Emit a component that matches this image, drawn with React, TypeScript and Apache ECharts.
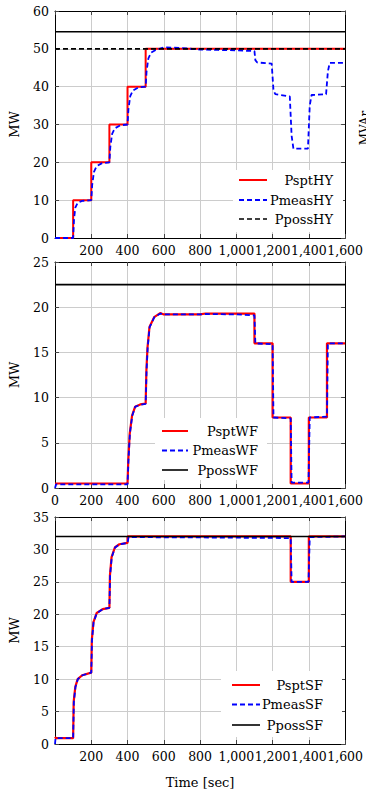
import React, { useEffect, useRef } from "react";
import * as echarts from "echarts";

// ---------- data ----------
const X_MIN = 0;
const X_MAX = 1600;
const X_STEP = 200;

// Panel 1: hydro
const hyPspt: [number, number][] = [
  [0, 0], [100, 0], [100, 10], [200, 10], [200, 20], [300, 20], [300, 30],
  [400, 30], [400, 40], [500, 40], [500, 50], [1600, 50],
];
const hyPmeas: [number, number][] = [
  [0, 0], [100, 0], [105, 5], [112, 8], [125, 9.3], [150, 9.8], [200, 10],
  [205, 14], [215, 17.5], [230, 19], [260, 19.8], [300, 20],
  [305, 24], [315, 27.5], [330, 29], [360, 29.8], [400, 30],
  [405, 34], [415, 37.5], [430, 39], [460, 39.8], [500, 40],
  [505, 44], [515, 47.5], [530, 49], [560, 49.8], [600, 50.4], [700, 50.2],
  [800, 49.8], [900, 49.7], [1000, 49.6], [1100, 49.4], [1105, 47], [1115, 46.4],
  [1195, 46.1], [1205, 39], [1215, 38], [1295, 37.4], [1305, 27], [1315, 23.6],
  [1395, 23.6], [1405, 35], [1415, 37.8], [1495, 38], [1505, 44], [1515, 46.3],
  [1600, 46.3],
];
const hyPposs: [number, number][] = [[0, 50], [1600, 50]];
const hyUpper: [number, number][] = [[0, 54.5], [1600, 54.5]];

// Panel 2: wind farm
const wfPspt: [number, number][] = [
  [0, 0.5], [400, 0.5], [404, 3], [412, 6], [425, 8], [442, 9], [470, 9.25],
  [500, 9.35], [504, 13], [510, 15.5], [521, 17.8], [547, 18.9], [580, 19.35],
  [600, 19.2], [800, 19.2], [830, 19.3], [1100, 19.3], [1100, 16], [1200, 16],
  [1200, 7.8], [1300, 7.8], [1300, 0.5], [1400, 0.5], [1400, 7.8], [1500, 7.8],
  [1500, 16], [1600, 16],
];
const wfPmeas: [number, number][] = [
  [0, 0], [6, 0.4], [400, 0.4], [405, 3], [413, 6], [426, 8], [443, 9],
  [470, 9.2], [500, 9.3], [505, 13], [511, 15.5], [522, 17.8], [548, 18.9],
  [582, 19.3], [600, 19.2], [800, 19.2], [830, 19.25], [1000, 19.2], [1100, 19.1],
  [1105, 16], [1200, 15.9], [1205, 7.8], [1300, 7.7], [1305, 0.6], [1398, 0.6],
  [1405, 7.8], [1500, 7.9], [1505, 16], [1600, 16],
];
const wfPposs: [number, number][] = [[0, 22.5], [1600, 22.5]];

// Panel 3: solar farm
const sfPspt: [number, number][] = [
  [0, 1.1], [5, 0.9], [100, 0.9], [103, 6.5], [112, 8.8], [125, 10], [150, 10.6],
  [200, 11], [203, 16], [212, 18.8], [230, 20.2], [263, 20.8], [300, 21],
  [303, 26], [312, 28.8], [330, 30.3], [355, 30.8], [400, 31], [400, 32],
  [1300, 32], [1300, 25], [1400, 25], [1400, 32], [1600, 32],
];
const sfPmeas: [number, number][] = [
  [0, 0], [3, 0.9], [100, 0.9], [104, 6.5], [113, 8.8], [126, 10], [151, 10.6],
  [200, 11], [204, 16], [213, 18.8], [231, 20.2], [264, 20.8], [300, 21],
  [304, 26], [313, 28.8], [331, 30.3], [356, 30.8], [400, 31], [406, 31.9],
  [800, 31.85], [1300, 31.75], [1305, 25], [1398, 25], [1405, 31.9], [1600, 32],
];
const sfPposs: [number, number][] = [[0, 32], [1600, 32]];

// axis ranges per panel
const yMaxes = [60, 25, 35];
const yIntervals = [10, 5, 5];
const showXMin = [false, true, false];

const legendNames = [
  ["PsptHY", "PmeasHY", "PpossHY"],
  ["PsptWF", "PmeasWF", "PpossWF"],
  ["PsptSF", "PmeasSF", "PpossSF"],
];

const yName = "MW";
const xName = "Time [sec]";
const cutName = "MVAr";

// ---------- layout ----------
const FONT = "DejaVu Serif";
const W = 366;
const H = 793;
const grids = [
  { left: 52, top: 11, width: 295, height: 227 },
  { left: 52, top: 262, width: 295, height: 226 },
  { left: 52, top: 517, width: 295, height: 227 },
];

const RED = "#ff0000";
const BLUE = "#0000ff";
const BLACK = "#000000";
const DASH = [5, 3];

function fmt(v: number) {
  return v.toLocaleString("en-US");
}

export default function App() {
  const ref = useRef<HTMLDivElement>(null);
  useEffect(() => {
    if (!ref.current) return;
    const chart = echarts.init(ref.current, undefined, { renderer: "svg" });

    const xAxes: any[] = [];
    const yAxes: any[] = [];
    const mainX: number[] = [];
    const mainY: number[] = [];
    grids.forEach((_, gi) => {
      const tick = { inside: true, length: 4, lineStyle: { color: "#444", width: 1 } };
      mainX.push(xAxes.length);
      xAxes.push({
        type: "value", gridIndex: gi, min: X_MIN, max: X_MAX, interval: X_STEP,
        position: "bottom",
        axisLine: { show: true, onZero: false, lineStyle: { color: BLACK, width: 1 } },
        axisTick: tick,
        axisLabel: {
          showMinLabel: showXMin[gi], formatter: (v: number) => fmt(v),
          fontFamily: FONT, fontSize: 12.5, color: BLACK, margin: 6,
        },
        splitLine: { show: true, lineStyle: { color: "#cccccc", width: 1 } },
        ...(gi === 2
          ? {
              name: xName, nameLocation: "middle", nameGap: 32,
              nameTextStyle: { fontFamily: FONT, fontSize: 13, color: BLACK },
            }
          : {}),
      });
      xAxes.push({
        type: "value", gridIndex: gi, min: X_MIN, max: X_MAX, interval: X_STEP,
        position: "top",
        axisLine: { show: true, onZero: false, lineStyle: { color: BLACK, width: 1 } },
        axisTick: tick, axisLabel: { show: false }, splitLine: { show: false },
      });
      mainY.push(yAxes.length);
      yAxes.push({
        type: "value", gridIndex: gi, min: 0, max: yMaxes[gi], interval: yIntervals[gi],
        position: "left",
        axisLine: { show: true, onZero: false, lineStyle: { color: BLACK, width: 1 } },
        axisTick: tick,
        axisLabel: { fontFamily: FONT, fontSize: 12.5, color: BLACK, margin: 6 },
        splitLine: { show: true, lineStyle: { color: "#cccccc", width: 1 } },
        name: yName, nameLocation: "middle", nameGap: 34,
        nameTextStyle: { fontFamily: FONT, fontSize: 13, color: BLACK },
      });
      yAxes.push({
        type: "value", gridIndex: gi, min: 0, max: yMaxes[gi], interval: yIntervals[gi],
        position: "right",
        axisLine: { show: true, onZero: false, lineStyle: { color: BLACK, width: 1 } },
        axisTick: tick, axisLabel: { show: false }, splitLine: { show: false },
      });
    });

    const line = (
      gi: number, data: [number, number][], color: string, width: number,
      dashed: boolean, z: number, name: string
    ) => ({
      type: "line", name, xAxisIndex: mainX[gi], yAxisIndex: mainY[gi], data,
      showSymbol: false, symbol: "none", z,
      lineStyle: { color, width, type: dashed ? DASH : "solid" },
      silent: true,
    });

    const series = [
      line(0, hyUpper, BLACK, 1.6, false, 2, "upper"),
      line(0, hyPspt, RED, 2, false, 3, legendNames[0][0]),
      line(0, hyPmeas, BLUE, 1.8, true, 4, legendNames[0][1]),
      line(0, hyPposs, BLACK, 1.6, true, 5, legendNames[0][2]),
      line(1, wfPspt, RED, 2.2, false, 3, legendNames[1][0]),
      line(1, wfPmeas, BLUE, 1.8, true, 4, legendNames[1][1]),
      line(1, wfPposs, BLACK, 1.6, false, 5, legendNames[1][2]),
      line(2, sfPspt, RED, 2.2, false, 3, legendNames[2][0]),
      line(2, sfPmeas, BLUE, 1.8, true, 4, legendNames[2][1]),
      line(2, sfPposs, BLACK, 1.6, false, 5, legendNames[2][2]),
    ];

    // legend boxes (pgfplots-style, right-aligned text)
    const legends = [
      { box: [233, 170, 110, 62], x1: 239, x2: 267, tx: 333, ys: [180, 200, 219], styles: [0, 1, 2] },
      { box: [155, 418, 112, 62], x1: 162, x2: 188, tx: 258, ys: [431, 450.5, 470], styles: [0, 1, 3] },
      { box: [221, 671, 121, 66], x1: 232, x2: 260, tx: 323, ys: [685, 704.5, 725], styles: [0, 1, 3] },
    ];
    const sampleStyles = [
      { stroke: RED, lineWidth: 2 },
      { stroke: BLUE, lineWidth: 1.8, lineDash: DASH },
      { stroke: BLACK, lineWidth: 1.6, lineDash: DASH },
      { stroke: BLACK, lineWidth: 1.6 },
    ];
    const graphic: any[] = [];
    legends.forEach((lg, gi) => {
      graphic.push({
        type: "rect", z: 50,
        shape: { x: lg.box[0], y: lg.box[1], width: lg.box[2], height: lg.box[3] },
        style: { fill: "#ffffff" },
      });
      lg.ys.forEach((y, i) => {
        graphic.push({
          type: "line", z: 51,
          shape: { x1: lg.x1, y1: y, x2: lg.x2, y2: y },
          style: sampleStyles[lg.styles[i]],
        });
        graphic.push({
          type: "text", z: 51, x: lg.tx, y,
          style: {
            text: legendNames[gi][i], fontFamily: FONT, fontSize: 13, fill: BLACK,
            textAlign: "right", textVerticalAlign: "middle",
          },
        });
      });
    });
    graphic.push({
      type: "text", z: 51, x: 365, y: 128, rotation: Math.PI / 2,
      style: {
        text: cutName, fontFamily: FONT, fontSize: 12, fill: BLACK,
        textAlign: "center", textVerticalAlign: "middle",
      },
    });

    chart.setOption({
      animation: false,
      backgroundColor: "#ffffff",
      textStyle: { fontFamily: FONT },
      grid: grids.map((g) => ({ ...g, containLabel: false })),
      xAxis: xAxes,
      yAxis: yAxes,
      series,
      graphic: { elements: graphic },
    });
    return () => chart.dispose();
  }, []);
  return (
    <div
      ref={ref}
      style={{ position: "absolute", left: 0, top: 0, width: W, height: H }}
    />
  );
}
